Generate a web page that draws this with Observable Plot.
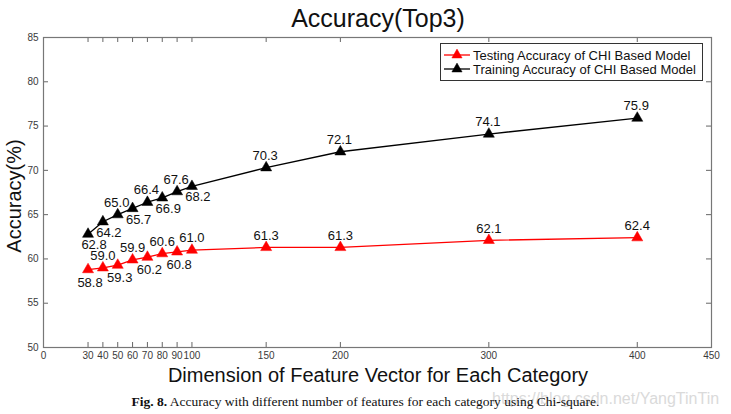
<!DOCTYPE html>
<html>
<head>
<meta charset="utf-8">
<script src="https://cdn.jsdelivr.net/npm/d3@7"></script>
<script src="https://cdn.jsdelivr.net/npm/@observablehq/plot@0.6"></script>
<style>
  html, body { margin: 0; padding: 0; background: #fff; }
  #wrap { position: relative; width: 731px; height: 414px; overflow: hidden; }
  #caption { position: absolute; left: 0; width: 731px; top: 394px; text-align: center;
    font-family: "Liberation Serif", "DejaVu Serif", serif; font-size: 13.5px; color: #111; }
  #wm { position: absolute; left: 492px; top: 390px; font-family: "Liberation Sans", Arial, sans-serif;
    font-size: 16px; color: #dadada; white-space: nowrap; }
</style>
</head>
<body>
<div id="wrap">
  <div id="chart"></div>
  <div id="wm">https://blog.csdn.net/YangTinTin</div>
  <div id="caption"><b>Fig. 8.</b> Accuracy with different number of features for each category using Chi-square.</div>
</div>
<script>
const dims = [30, 40, 50, 60, 70, 80, 90, 100, 150, 200, 300, 400];
const testingAcc = [58.8, 59.0, 59.3, 59.9, 60.2, 60.6, 60.8, 61.0, 61.3, 61.3, 62.1, 62.4];
const trainingAcc = [62.8, 64.2, 65.0, 65.7, 66.4, 66.9, 67.6, 68.2, 70.3, 72.1, 74.1, 75.9];
const testingLabels = ["58.8","59.0","59.3","59.9","60.2","60.6","60.8","61.0","61.3","61.3","62.1","62.4"];
const trainingLabels = ["62.8","64.2","65.0","65.7","66.4","66.9","67.6","68.2","70.3","72.1","74.1","75.9"];
const seriesNames = ["Testing Accuracy of CHI Based Model", "Training Accuracy of CHI Based Model"];
const xTicks = [0, 30, 40, 50, 60, 70, 80, 90, 100, 150, 200, 300, 400, 450];
const yTicks = [50, 55, 60, 65, 70, 75, 80, 85];
const titleText = "Accuracy(Top3)";
const xLabel = "Dimension of Feature Vector for Each Category";
const yLabel = "Accuracy(%)";

const colors = {Testing: "#ff0000", Training: "#000000"};

const testing = dims.map((x, i) => ({x, y: testingAcc[i], label: testingLabels[i], s: "Testing", i}));
const training = dims.map((x, i) => ({x, y: trainingAcc[i], label: trainingLabels[i], s: "Training", i}));

// label placement: below or above the marker
function isBelow(d) {
  if (d.i >= 8) return false;
  if (d.s === "Testing") return d.i % 2 === 0;
  return d.i === 0 || d.i % 2 === 1;
}
const testBelow = testing.filter(isBelow);
const testAbove = testing.filter(d => !isBelow(d));
const trainBelow = training.filter(isBelow);
const trainAbove = training.filter(d => !isBelow(d));

const W = 731, H = 392;
const mL = 43, mR = 20, mT = 37, mB = 45;
const pxPerY = (H - mT - mB) / 35;
const pxPerX = (W - mL - mR) / 450;
const tl = 5;

const inner = xTicks.filter(t => t > 0 && t < 450);
const innerY = yTicks.filter(t => t > 50 && t < 85);

const svg = Plot.plot({
  width: W, height: H,
  marginLeft: mL, marginRight: mR, marginTop: mT, marginBottom: mB,
  style: {fontFamily: "'Liberation Sans', Arial, sans-serif", background: "#fff", overflow: "visible"},
  x: {domain: [0, 450]},
  y: {domain: [50, 85]},
  marks: [
    Plot.axisX({ticks: xTicks, tickSize: 0, tickPadding: 4, fontSize: 10, fill: "#3a3a3a", tickFormat: d => String(d), label: null}),
    Plot.axisY({ticks: yTicks, tickSize: 0, tickPadding: 5, fontSize: 10, fill: "#3a3a3a", tickFormat: d => String(d), label: null}),
    Plot.ruleX(inner, {x: d => d, y1: 50, y2: 50 + tl / pxPerY, stroke: "#666", strokeWidth: 1}),
    Plot.ruleX(inner, {x: d => d, y1: 85, y2: 85 - tl / pxPerY, stroke: "#666", strokeWidth: 1}),
    Plot.ruleY(innerY, {y: d => d, x1: 0, x2: tl / pxPerX, stroke: "#666", strokeWidth: 1}),
    Plot.ruleY(innerY, {y: d => d, x1: 450, x2: 450 - tl / pxPerX, stroke: "#666", strokeWidth: 1}),
    Plot.frame({stroke: "#777", strokeWidth: 1.2}),
    Plot.line(testing, {x: "x", y: "y", stroke: colors.Testing, strokeWidth: 1.3}),
    Plot.line(training, {x: "x", y: "y", stroke: colors.Training, strokeWidth: 1.3}),
    Plot.dot(testing, {x: "x", y: "y", symbol: "triangle", r: 4.1, fill: colors.Testing, stroke: colors.Testing, strokeWidth: 0.5}),
    Plot.dot(training, {x: "x", y: "y", symbol: "triangle", r: 4.1, fill: colors.Training, stroke: colors.Training, strokeWidth: 0.5}),
    Plot.text(testBelow, {x: "x", y: "y", text: "label", dy: 13, dx: 2, fontSize: 13, fill: "#111"}),
    Plot.text(testAbove, {x: "x", y: "y", text: "label", dy: -12, dx: 0, fontSize: 13, fill: "#111"}),
    Plot.text(trainBelow, {x: "x", y: "y", text: "label", dy: 11, dx: 6, fontSize: 13, fill: "#111"}),
    Plot.text(trainAbove, {x: "x", y: "y", text: "label", dy: -12, dx: -1, fontSize: 13, fill: "#111"})
  ]
});
document.getElementById("chart").appendChild(svg);

// titles and legend
const s = d3.select(svg);
s.append("text").attr("x", 378).attr("y", 27).attr("text-anchor", "middle")
  .attr("font-size", 25).attr("fill", "#111").text(titleText);
s.append("text").attr("x", 378).attr("y", 382).attr("text-anchor", "middle")
  .attr("font-size", 20).attr("fill", "#111").text(xLabel);
s.append("text").attr("transform", "translate(21,196) rotate(-90)").attr("text-anchor", "middle")
  .attr("font-size", 20).attr("fill", "#111").text(yLabel);

const lg = s.append("g");
lg.append("rect").attr("x", 440.5).attr("y", 43.5).attr("width", 262).attr("height", 37)
  .attr("fill", "#fff").attr("stroke", "#333").attr("stroke-width", 1);
const keys = ["Testing", "Training"];
keys.forEach((k, i) => {
  const cy = 55 + i * 14;
  lg.append("line").attr("x1", 444).attr("x2", 470).attr("y1", cy).attr("y2", cy)
    .attr("stroke", colors[k]).attr("stroke-width", 1.3);
  lg.append("path").attr("d", d3.symbol(d3.symbolTriangle, 45)()).attr("transform", `translate(457,${cy})`)
    .attr("fill", colors[k]).attr("stroke", colors[k]).attr("stroke-width", 0.5);
  lg.append("text").attr("x", 473).attr("y", cy).attr("dy", "0.35em").attr("text-anchor", "start")
    .attr("font-size", 13).attr("fill", "#111").text(seriesNames[i]);
});
</script>
</body>
</html>
